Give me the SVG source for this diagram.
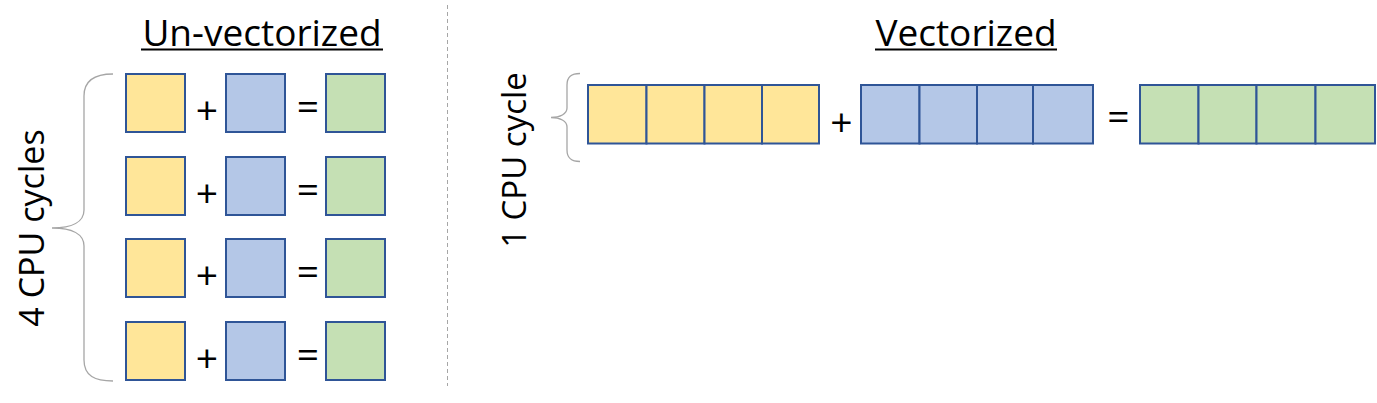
<svg xmlns="http://www.w3.org/2000/svg" width="1377" height="403" viewBox="0 0 1377 403">
<style>
.t{font-family:"Open Sans","Noto Sans",sans-serif;fill:#000}
.y{fill:#FFE699;stroke:#2F5597;stroke-width:2}
.b{fill:#B4C7E7;stroke:#2F5597;stroke-width:2}
.g{fill:#C5E0B4;stroke:#2F5597;stroke-width:2}
.br{fill:none;stroke:#A6A6A6;stroke-width:1.3}
.op{font-size:39px;text-anchor:middle}
</style>
<rect width="1377" height="403" fill="#fff"/>
<line x1="447.5" y1="5" x2="447.5" y2="386" stroke="#A6A6A6" stroke-width="1" stroke-dasharray="4,3"/>
<text class="t" x="262" y="46" font-size="37" text-anchor="middle">Un-vectorized</text>
<line x1="141" y1="49.5" x2="383" y2="49.5" stroke="#000" stroke-width="2"/>
<text class="t" x="966" y="46" font-size="37" text-anchor="middle">Vectorized</text>
<line x1="875" y1="49.5" x2="1057" y2="49.5" stroke="#000" stroke-width="2"/>
<g id="brace-left">
<path class="br" d="M113,74 C95,74 84,80 84,96 L84,210 C84,222 72,228 52,228 C72,228 84,234 84,246 L84,360 C84,376 95,381 113,381"/>
<text class="t" font-size="34" text-anchor="middle" transform="translate(44,228) rotate(-90)">4 CPU cycles</text>
</g>
<g id="brace-right">
<path class="br" d="M580,73.5 C572,73.5 567,76 567,85 L567,108 C567,114 560,117.5 551,117.5 C560,117.5 567,121 567,127 L567,150 C567,159 572,161.5 580,161.5"/>
<text class="t" font-size="33" text-anchor="middle" transform="translate(526,160) rotate(-90)">1 CPU cycle</text>
</g>
<g id="row1">
<rect class="y" x="126" y="74" width="59" height="58"/><text class="t op" x="207" y="124">+</text>
<rect class="b" x="226" y="74" width="59" height="58"/><text class="t op" x="308" y="120">=</text>
<rect class="g" x="326" y="74" width="59" height="58"/>
</g>
<g id="row2">
<rect class="y" x="126" y="157" width="59" height="58"/><text class="t op" x="207" y="207">+</text>
<rect class="b" x="226" y="157" width="59" height="58"/><text class="t op" x="308" y="203">=</text>
<rect class="g" x="326" y="157" width="59" height="58"/>
</g>
<g id="row3">
<rect class="y" x="126" y="239" width="59" height="58"/><text class="t op" x="207" y="289">+</text>
<rect class="b" x="226" y="239" width="59" height="58"/><text class="t op" x="308" y="285">=</text>
<rect class="g" x="326" y="239" width="59" height="58"/>
</g>
<g id="row4">
<rect class="y" x="126" y="322" width="59" height="58"/><text class="t op" x="207" y="372">+</text>
<rect class="b" x="226" y="322" width="59" height="58"/><text class="t op" x="308" y="368">=</text>
<rect class="g" x="326" y="322" width="59" height="58"/>
</g>
<g id="vec-a">
<rect class="y" x="588" y="85" width="58.5" height="58.5"/>
<rect class="y" x="646.5" y="85" width="58" height="58.5"/>
<rect class="y" x="704.5" y="85" width="57.5" height="58.5"/>
<rect class="y" x="762" y="85" width="57" height="58.5"/>
</g>
<text class="t op" x="841.5" y="136">+</text>
<g id="vec-b">
<rect class="b" x="861" y="85" width="58.5" height="58.5"/>
<rect class="b" x="919.5" y="85" width="57.5" height="58.5"/>
<rect class="b" x="977" y="85" width="56" height="58.5"/>
<rect class="b" x="1033" y="85" width="60" height="58.5"/>
</g>
<text class="t op" x="1118.5" y="130">=</text>
<g id="vec-c">
<rect class="g" x="1140" y="85" width="58.5" height="58.5"/>
<rect class="g" x="1198.5" y="85" width="58" height="58.5"/>
<rect class="g" x="1256.5" y="85" width="59" height="58.5"/>
<rect class="g" x="1315.5" y="85" width="59.5" height="58.5"/>
</g>
</svg>
